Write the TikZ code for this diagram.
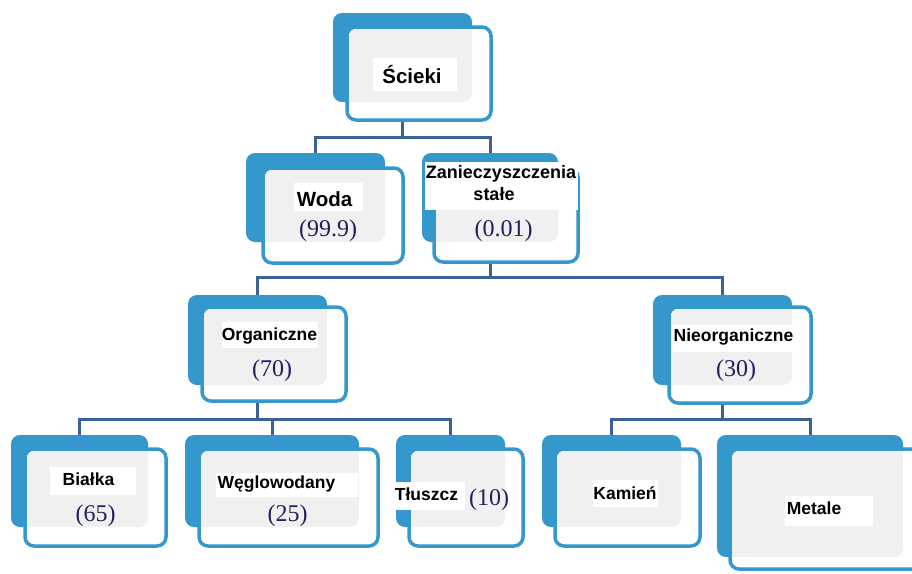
\documentclass[tikz,border=0pt]{standalone}
\usepackage{fontspec}
\usetikzlibrary{fit,calc,backgrounds}
\newfontfamily\lblsans{Liberation Sans}
\newfontfamily\numserif{Liberation Serif}

\definecolor{cardblue}{RGB}{52,152,204}
\definecolor{cardgray}{RGB}{240,240,240}
\definecolor{linkblue}{RGB}{58,98,150}
\definecolor{numnavy}{RGB}{32,32,92}

\tikzset{
  backcard/.style={fill=cardblue, rounded corners=9pt, inner sep=0pt, outer sep=0pt},
  frontcard/.style={draw=cardblue, line width=3.5pt, fill=white, rounded corners=9pt,
                    inner sep=0pt, outer sep=0pt},
  link/.style={draw=linkblue, line width=3pt},
  bigtxt/.style={font=\lblsans\bfseries\fontsize{20.5}{24}\selectfont, anchor=base, inner sep=0pt},
  midtxt/.style={font=\lblsans\bfseries\fontsize{18}{21}\selectfont, anchor=base, inner sep=0pt},
  smalltxt/.style={font=\lblsans\bfseries\fontsize{17.5}{21}\selectfont, anchor=base, inner sep=0pt},
  numtxt/.style={font=\numserif\fontsize{24}{28}\selectfont, text=numnavy, anchor=base, inner sep=0pt},
}

% #1 name; #2-#5 back card corners; #6-#9 front card corners
\newcommand\stackcard[9]{%
  \node[backcard, fit={(#2,#3) (#4,#5)}] (#1b) {};
  \node[frontcard, fit={(#6,#7) (#8,#9)}] (#1) {};
  \begin{scope}
    \clip[rounded corners=7pt] ($(#1.north west)+(2,2)$) rectangle ($(#1.south east)+(-2,-2)$);
    \fill[cardgray, rounded corners=9pt] (#1b.north west) rectangle (#1b.south east);
  \end{scope}}

\begin{document}
\begin{tikzpicture}[x=1pt, y=-1pt]
  \useasboundingbox (0,0) rectangle (912,573);
  \clip (0,0) rectangle (912,573);

  % cards
  \stackcard{scieki}{333}{13}{472}{102}{347}{27}{491}{120}
  \stackcard{woda}{246}{153}{385}{242}{263}{168}{403}{263}
  \stackcard{zanie}{422}{153}{558}{242}{434}{168}{578}{262}
  \stackcard{organ}{188}{295}{327}{385}{202}{307}{346}{401}
  \stackcard{nieorg}{653}{295}{792}{385}{669}{307}{811}{403}
  \stackcard{bialka}{11}{435}{148}{527}{25}{449}{166}{546}
  \stackcard{wegl}{185}{435}{359}{527}{199}{449}{378}{546}
  \stackcard{tlusz}{396}{435}{505}{527}{409}{449}{523}{546}
  \stackcard{kamien}{542}{435}{681}{527}{555}{449}{700}{546}
  \stackcard{metale}{717}{435}{903}{557}{730}{449}{930}{569}

  % white label backgrounds
  \fill[white] (373,58) rectangle (457,91);
  \fill[white] (294,183) rectangle (363,211);
  \fill[white] (425,162) rectangle (578,210);
  \fill[white] (222,322) rectangle (318,348);
  \fill[white] (672,325) rectangle (795,352);
  \fill[white] (50,467) rectangle (136,495);
  \fill[white] (216,473) rectangle (358,497);
  \fill[white] (393,482) rectangle (465,510);
  \fill[white] (593,480) rectangle (658,507);
  \fill[white] (785,496) rectangle (873,526);

  % labels
  \node[bigtxt] (tscieki) at (412,83.3) {Ścieki};
  \node[bigtxt] (twoda) at (324.5,206.7) {Woda};
  \node[numtxt] (nwoda) at (328,236.7) {(99.9)};
  \node[midtxt] (tzanie) at (501,178.3) {Zanieczyszczenia};
  \node[midtxt] (tzanie2) at (494,200) {stałe};
  \node[numtxt] (nzanie) at (503.5,236.7) {(0.01)};
  \node[smalltxt] (torgan) at (269.5,340) {Organiczne};
  \node[numtxt] (norgan) at (272,376.7) {(70)};
  \node[smalltxt] (tnieorg) at (733.5,341.7) {Nieorganiczne};
  \node[numtxt] (nnieorg) at (736,376.7) {(30)};
  \node[smalltxt] (tbialka) at (88.5,485) {Białka};
  \node[numtxt] (nbialka) at (95.5,521.7) {(65)};
  \node[smalltxt] (twegl) at (276.5,488.3) {Węglowodany};
  \node[numtxt] (nwegl) at (287.5,521.7) {(25)};
  \node[smalltxt] (ttlusz) at (426.5,500.7) {Tłuszcz};
  \node[numtxt] (ntlusz) at (489,505) {(10)};
  \node[smalltxt] (tkamien) at (625,499) {Kamień};
  \node[smalltxt] (tmetale) at (814,514) {Metale};

  % connectors, kept behind the cards
  \coordinate (bar1) at (0,137);
  \coordinate (bar2) at (0,277);
  \coordinate (bar3) at (0,419);
  \begin{scope}[on background layer]
    \draw[link] (sciekib.south) -- (sciekib.south |- bar1);
    \draw[link] (wodab.north) |- (bar1 -| zanieb.north) -- (zanieb.north);

    \draw[link] (zanieb.south) -- (zanieb.south |- bar2);
    \draw[link] (organb.north) |- (bar2 -| nieorgb.north) -- (nieorgb.north);

    \draw[link] (organb.south) -- (organb.south |- bar3);
    \draw[link] (bialkab.north) |- (bar3 -| tluszb.north) -- (tluszb.north);
    \draw[link] (weglb.north) -- (weglb.north |- bar3);

    \draw[link] (nieorgb.south) -- (nieorgb.south |- bar3);
    \draw[link] (kamienb.north) |- (bar3 -| metaleb.north) -- (metaleb.north);
  \end{scope}
\end{tikzpicture}
\end{document}
